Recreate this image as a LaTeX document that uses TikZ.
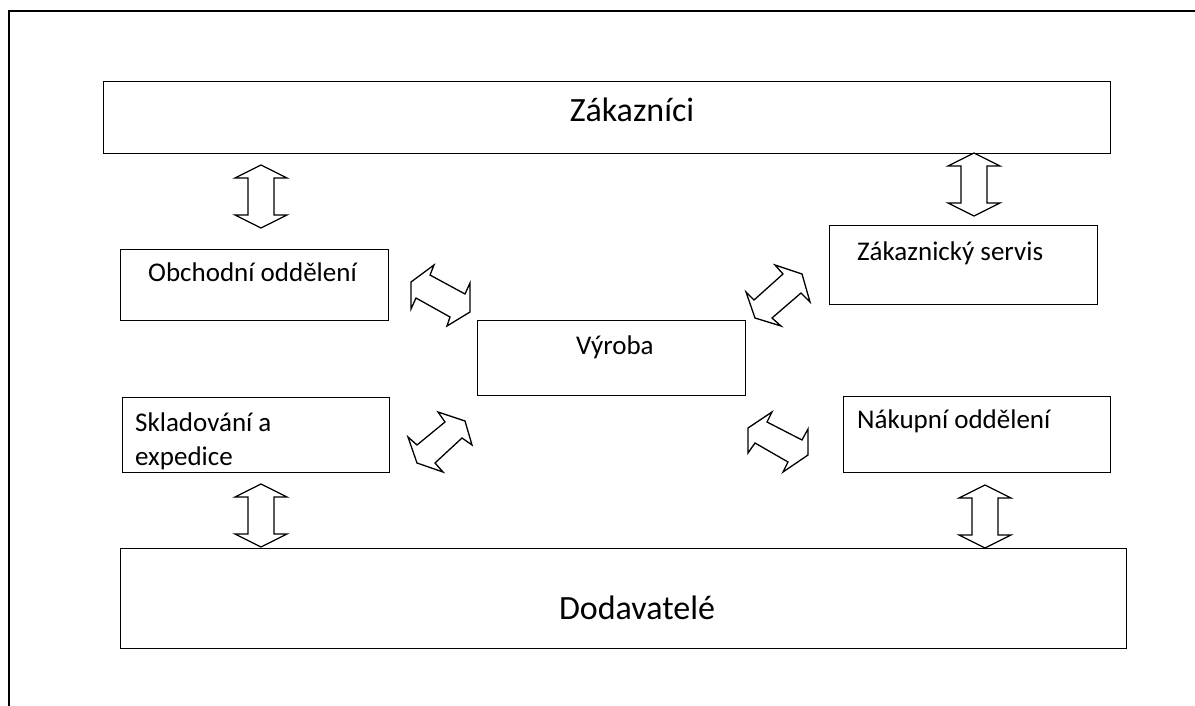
\documentclass[tikz,border=0pt]{standalone}
\usepackage{fontspec}
\setmainfont{Carlito}
\begin{document}
\begin{tikzpicture}[x=1pt,y=-1pt,
  box/.style={draw=black, line width=1.4pt, inner sep=0pt, anchor=north west},
  blockarrow/.style={draw=black, line width=1.3pt, fill=white, line join=miter},
  bigtext/.style={font=\fontsize{34}{40}\selectfont, inner sep=0pt},
  smalltext/.style={font=\fontsize{27}{34}\selectfont, inner sep=0pt, anchor=west, align=left},
  updown/.pic={\draw[blockarrow] (0,0) -- (26,13) -- (13,13) -- (13,50) -- (26,50)
     -- (0,63) -- (-26,50) -- (-13,50) -- (-13,13) -- (-26,13) -- cycle;}
]
\useasboundingbox (0,0) rectangle (1195,706);
% outer frame, only its top and left edges are in view
\draw[line width=2pt] (9,706) -- (9,11) -- (1195,11);

% boxes
\node[box, minimum width=1007pt, minimum height=72pt] (zak) at (103,81) {};
\node[box, minimum width=1006pt, minimum height=100pt] (dod) at (120,548) {};
\node[box, minimum width=268pt, minimum height=71pt] (obch) at (120,249) {};
\node[box, minimum width=268pt, minimum height=79pt] (serv) at (829,225) {};
\node[box, minimum width=268pt, minimum height=75pt] (vyr) at (477,320) {};
\node[box, minimum width=267pt, minimum height=75pt] (skl) at (122,397) {};
\node[box, minimum width=267pt, minimum height=76pt] (nak) at (843,396) {};

% labels
\node[bigtext] (tzak) at (632,110) {Zákazníci};
\node[bigtext] (tdod) at (637,608) {Dodavatelé};
\node[smalltext] (tobch) at (148,272) {Obchodní oddělení};
\node[smalltext] (tserv) at (857,253) {Zákaznický servis};
\node[smalltext] (tvyr) at (576,347) {Výroba};
\node[smalltext] (tskl) at (135,441) {Skladování a\\expedice};
\node[smalltext] (tnak) at (857,421) {Nákupní oddělení};

% vertical double arrows
\pic at (261,165) {updown};
\pic at (974,153) {updown};
\pic at (261,484) {updown};
\pic at (985,485) {updown};

% slanted double arrows around the production box
\draw[blockarrow] (411,282) -- (434,265) -- (430,275) -- (465,294) -- (470,283)
  -- (470,312) -- (447,326) -- (450,317) -- (416,298) -- (411,309) -- cycle;
\draw[blockarrow] (438,412) -- (465,421) -- (472,445) -- (462,438) -- (435,463)
  -- (443,472) -- (417,463) -- (408,437) -- (417,445) -- (445,422) -- cycle;
\draw[blockarrow] (775,265) -- (802,274) -- (810,302) -- (801,293) -- (772,318)
  -- (781,326) -- (755,318) -- (746,292) -- (754,300) -- (783,274) -- cycle;
\draw[blockarrow] (772,412) -- (767,422) -- (802,440) -- (808,429) -- (808,455)
  -- (783,472) -- (788,462) -- (755,443) -- (748,453) -- (748,428) -- cycle;
\end{tikzpicture}
\end{document}
